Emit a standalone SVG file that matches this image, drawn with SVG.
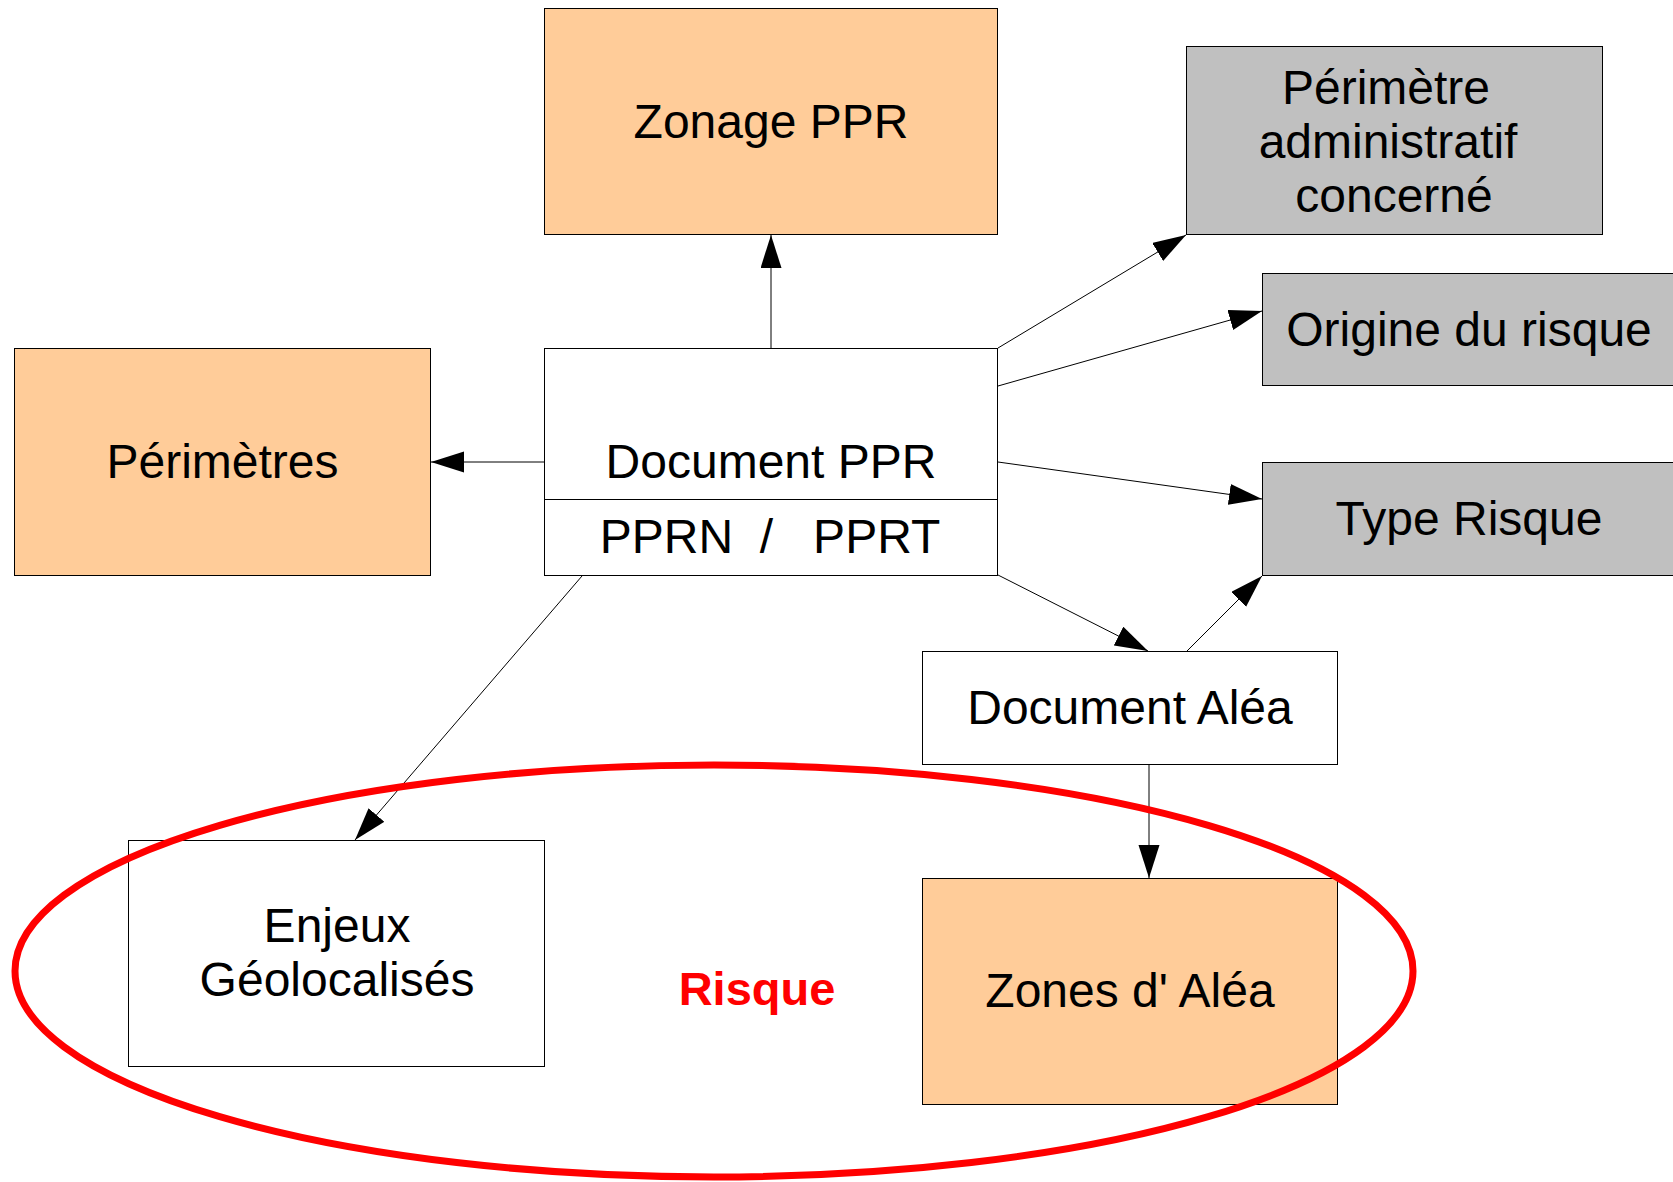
<svg xmlns="http://www.w3.org/2000/svg" width="1673" height="1182" viewBox="0 0 1673 1182">
  <style>
    .box { stroke: #000; stroke-width: 1; }
    .orange { fill: #FFCC99; }
    .grey { fill: #C0C0C0; }
    .white { fill: #FFFFFF; }
    .lbl { font-family: "Liberation Sans", Arial, sans-serif; font-size: 48px; fill: #000; text-anchor: middle; }
    .edge { stroke: #000; stroke-width: 1; fill: none; marker-end: url(#arrow); }
    .risk { fill: none; stroke: #FF0000; stroke-width: 7; }
    .risk-lbl { font-family: "Liberation Sans", Arial, sans-serif; font-size: 47px; font-weight: bold; fill: #FF0000; text-anchor: middle; }
  </style>
  <defs>
    <marker id="arrow" markerUnits="userSpaceOnUse" markerWidth="34" markerHeight="22" refX="33" refY="10.5" orient="auto">
      <path d="M0,0 L33,10.5 L0,21 Z" fill="#000"/>
    </marker>
  </defs>
  <rect width="1673" height="1182" fill="#FFFFFF"/>

  <!-- nodes -->
  <g id="zonage-ppr">
    <rect class="box orange" x="544.5" y="8.5" width="453" height="226"/>
    <text class="lbl" x="771" y="138">Zonage PPR</text>
  </g>
  <g id="perimetre-administratif">
    <rect class="box grey" x="1186.5" y="46.5" width="416" height="188"/>
    <text class="lbl" x="1386" y="104">Périmètre</text>
    <text class="lbl" x="1388" y="158">administratif</text>
    <text class="lbl" x="1394" y="212">concerné</text>
  </g>
  <g id="origine-risque">
    <rect class="box grey" x="1262.5" y="273.5" width="414" height="112"/>
    <text class="lbl" x="1469" y="346">Origine du risque</text>
  </g>
  <g id="perimetres">
    <rect class="box orange" x="14.5" y="348.5" width="416" height="227"/>
    <text class="lbl" x="222.5" y="478">Périmètres</text>
  </g>
  <g id="document-ppr">
    <rect class="box white" x="544.5" y="348.5" width="453" height="227"/>
    <line x1="544.5" y1="499.5" x2="997.5" y2="499.5" stroke="#000" stroke-width="1"/>
    <text class="lbl" x="771" y="478">Document PPR</text>
    <text class="lbl" x="770" y="553" xml:space="preserve">PPRN  /   PPRT</text>
  </g>
  <g id="type-risque">
    <rect class="box grey" x="1262.5" y="462.5" width="414" height="113"/>
    <text class="lbl" x="1469" y="535">Type Risque</text>
  </g>
  <g id="document-alea">
    <rect class="box white" x="922.5" y="651.5" width="415" height="113"/>
    <text class="lbl" x="1130" y="724">Document Aléa</text>
  </g>
  <g id="enjeux">
    <rect class="box white" x="128.5" y="840.5" width="416" height="226"/>
    <text class="lbl" x="337" y="942">Enjeux</text>
    <text class="lbl" x="337" y="996">Géolocalisés</text>
  </g>
  <g id="zones-alea">
    <rect class="box orange" x="922.5" y="878.5" width="415" height="226"/>
    <text class="lbl" x="1130" y="1007">Zones d' Aléa</text>
  </g>

  <!-- connectors -->
  <g id="connectors">
    <line class="edge" x1="771" y1="348" x2="771" y2="235"/>
    <line class="edge" x1="544" y1="462" x2="431" y2="462"/>
    <line class="edge" x1="998" y1="348" x2="1186" y2="235"/>
    <line class="edge" x1="998" y1="386" x2="1262" y2="311"/>
    <line class="edge" x1="998" y1="462" x2="1262" y2="499"/>
    <line class="edge" x1="998" y1="575" x2="1148" y2="651"/>
    <line class="edge" x1="1187" y1="651" x2="1262" y2="576"/>
    <line class="edge" x1="582" y1="576" x2="355" y2="840"/>
    <line class="edge" x1="1149" y1="765" x2="1149" y2="878"/>
  </g>

  <!-- risk grouping -->
  <g id="risque">
    <ellipse class="risk" cx="714" cy="971" rx="699" ry="206"/>
    <text class="risk-lbl" x="757" y="1005">Risque</text>
  </g>
</svg>
